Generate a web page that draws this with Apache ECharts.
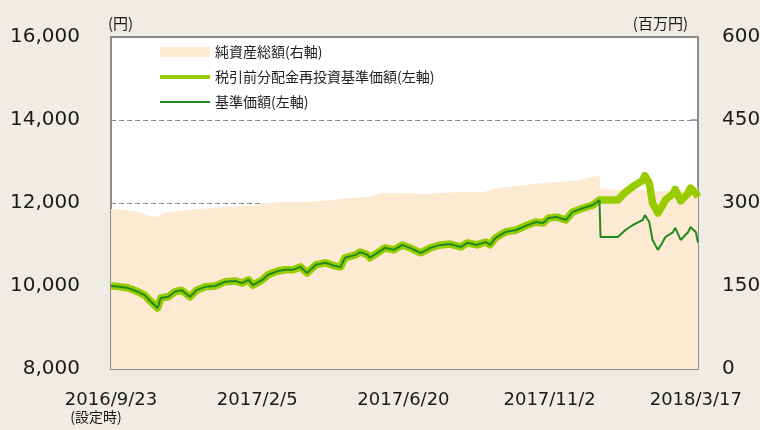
<!DOCTYPE html>
<html>
<head>
<meta charset="utf-8">
<script src="https://cdn.jsdelivr.net/npm/echarts@6/dist/echarts.min.js"></script>
<style>
  html, body { margin: 0; padding: 0; background: #efece6; }
  #chart { width: 760px; height: 430px; }
</style>
</head>
<body>
<div id="chart"></div>
<script>
/* ── Data ──────────────────────────────────────────────── */
const START = '2016/9/23';
const tickDays = [0, 135, 270, 405, 540];

// 基準価額 / 税引前分配金再投資基準価額 (円, 左軸)
const navDates = [
  '2016/9/23','2016/9/29','2016/10/9','2016/10/18','2016/10/24','2016/10/30','2016/11/5','2016/11/8',
  '2016/11/15','2016/11/21','2016/11/27','2016/12/5','2016/12/11','2016/12/19','2016/12/28','2017/1/6',
  '2017/1/16','2017/1/22','2017/1/28','2017/2/1','2017/2/10','2017/2/15','2017/2/24','2017/3/3',
  '2017/3/10','2017/3/17','2017/3/23','2017/3/31','2017/4/9','2017/4/18','2017/4/23','2017/4/27',
  '2017/5/7','2017/5/11','2017/5/18','2017/5/20','2017/5/27','2017/6/3','2017/6/11','2017/6/19',
  '2017/6/26','2017/7/6','2017/7/15','2017/7/24','2017/8/2','2017/8/12','2017/8/18','2017/8/27',
  '2017/9/4','2017/9/8','2017/9/13','2017/9/22','2017/10/2','2017/10/11','2017/10/20','2017/10/27',
  '2017/11/1','2017/11/9','2017/11/17','2017/11/23','2017/12/3','2017/12/12','2017/12/18','2017/12/19',
  '2018/1/4','2018/1/11','2018/1/18','2018/1/23','2018/1/27','2018/1/29','2018/2/2','2018/2/5',
  '2018/2/10','2018/2/14','2018/2/17','2018/2/24','2018/2/26','2018/3/3','2018/3/10','2018/3/12',
  '2018/3/17','2018/3/19'
];
const navValues = [
  10000, 9990, 9950, 9860, 9780, 9620, 9470, 9710,
  9740, 9860, 9900, 9740, 9900, 9980, 10000, 10100,
  10120, 10070, 10150, 10020, 10150, 10270, 10360, 10390,
  10390, 10460, 10310, 10510, 10560, 10480, 10460, 10680,
  10750, 10820, 10750, 10680, 10800, 10920, 10870, 10990,
  10920, 10800, 10920, 10990, 11010, 10940, 11040, 10990,
  11060, 10990, 11160, 11300, 11350, 11450, 11540, 11520,
  11640, 11660, 11590, 11780, 11880, 11950, 12070, 11180,
  11180, 11350, 11470, 11540, 11590, 11710, 11540, 11110,
  10870, 11040, 11180, 11300, 11400, 11110, 11300, 11420,
  11300, 11050
];
const reinvValues = [
  10000, 9990, 9950, 9860, 9780, 9620, 9470, 9710,
  9740, 9860, 9900, 9740, 9900, 9980, 10000, 10100,
  10120, 10070, 10150, 10020, 10150, 10270, 10360, 10390,
  10390, 10460, 10310, 10510, 10560, 10480, 10460, 10680,
  10750, 10820, 10750, 10680, 10800, 10920, 10870, 10990,
  10920, 10800, 10920, 10990, 11010, 10940, 11040, 10990,
  11060, 10990, 11160, 11300, 11350, 11450, 11540, 11520,
  11640, 11660, 11590, 11780, 11880, 11950, 12070, 12070,
  12070, 12260, 12400, 12480, 12540, 12660, 12480, 12000,
  11760, 11930, 12080, 12220, 12330, 12050, 12240, 12360,
  12240, 12150
];

// 純資産総額 (百万円, 右軸)
const assetDates = [
  '2016/9/23','2016/9/25','2016/10/8','2016/10/18','2016/10/29','2016/11/5','2016/11/10','2016/11/23',
  '2016/12/14','2017/1/7','2017/2/1','2017/2/12','2017/3/2','2017/3/23','2017/4/13','2017/4/27',
  '2017/5/19','2017/6/1','2017/6/23','2017/7/10','2017/7/18','2017/8/15','2017/9/2','2017/9/16',
  '2017/10/7','2017/10/25','2017/11/11','2017/11/29','2017/12/16','2017/12/18','2017/12/19','2018/1/4',
  '2018/1/25','2018/2/13','2018/3/3','2018/3/19'
];
const assetValues = [
  289, 289, 287, 284, 276, 275, 282, 285,
  289, 293, 295, 300, 302, 302, 305, 309,
  311, 318, 318, 316, 318, 320, 320, 327,
  332, 336, 338, 341, 349, 350, 325, 324,
  324, 321, 324, 327
];

/* ── Helpers ───────────────────────────────────────────── */
const DAY = 86400000;
function toUTC(s) {
  const p = s.split('/').map(Number);
  return Date.UTC(p[0], p[1] - 1, p[2]);
}
const t0 = toUTC(START);
const dayOf = s => (toUTC(s) - t0) / DAY;
const pairs = (dates, vals) => dates.map((d, i) => [dayOf(d), vals[i]]);

const FONT_JP = "'Noto Sans CJK JP', 'Noto Sans', sans-serif";
const FONT_NUM = "'DejaVu Sans', 'Noto Sans CJK JP', sans-serif";
const GREEN_LIGHT = '#99cc00';
const GREEN_DARK = '#1e8a1e';
const PEACH = '#fcead3';
const AXIS_GREY = '#8c8c8c';
const NO_DOT = { color: 'rgba(0,0,0,0)', borderWidth: 0 };

/* ── Chart ─────────────────────────────────────────────── */
const chart = echarts.init(document.getElementById('chart'), null, { renderer: 'canvas' });

chart.setOption({
  backgroundColor: '#efece6',
  animation: false,
  grid: {
    left: 111, right: 62, top: 37, bottom: 61,
    outerBoundsMode: 'none', containLabel: false,
    show: true, backgroundColor: '#fff', borderColor: AXIS_GREY, borderWidth: 2
  },
  legend: {
    orient: 'vertical', left: 153, top: 40,
    itemWidth: 50, itemHeight: 10, itemGap: 11,
    textStyle: { fontFamily: FONT_JP, fontSize: 14, color: '#222' },
    data: [
      { name: '純資産総額(右軸)', icon: 'rect', itemStyle: { color: PEACH } },
      { name: '税引前分配金再投資基準価額(左軸)', lineStyle: { width: 4 }, itemStyle: NO_DOT },
      { name: '基準価額(左軸)', lineStyle: { width: 2 }, itemStyle: NO_DOT }
    ]
  },
  xAxis: {
    type: 'value', min: 0, max: 542, interval: 135,
    axisLine: { show: true, lineStyle: { color: AXIS_GREY, width: 2 } },
    axisTick: { show: true, inside: true, length: 7, lineStyle: { color: AXIS_GREY, width: 1.5 } },
    splitLine: { show: false },
    axisLabel: {
      showMaxLabel: false, margin: 21, color: '#1a1a1a', fontFamily: FONT_NUM, fontSize: 18,
      lineHeight: 20,
      formatter: v => {
        if (tickDays.indexOf(v) < 0) return '';
        const d = new Date(t0 + v * DAY);
        const s = d.getUTCFullYear() + '/' + (d.getUTCMonth() + 1) + '/' + d.getUTCDate();
        return v === 0 ? s + '\n{s|(設定時)}' : s;
      },
      rich: { s: { fontFamily: FONT_JP, fontSize: 14, color: '#1a1a1a', padding: [0, 30, 0, 0], lineHeight: 14 } }
    }
  },
  yAxis: [
    {
      type: 'value', min: 8000, max: 16000, interval: 2000,
      name: '(円)', nameLocation: 'end', nameGap: 6,
      nameTextStyle: { align: 'left', fontFamily: FONT_JP, fontSize: 15, color: '#1a1a1a', padding: [0, 0, 0, -3] },
      axisLine: { show: true, lineStyle: { color: AXIS_GREY, width: 2 } },
      axisTick: { show: false },
      splitLine: { show: true, lineStyle: { color: '#8a8a8a', type: [5, 3], width: 1.2 } },
      axisLabel: {
        margin: 31, color: '#1a1a1a', fontFamily: FONT_NUM, fontSize: 20,
        formatter: v => v.toLocaleString('en-US')
      }
    },
    {
      type: 'value', min: 0, max: 600, interval: 150,
      name: '(百万円)', nameLocation: 'end', nameGap: 6,
      nameTextStyle: { align: 'right', fontFamily: FONT_JP, fontSize: 15, color: '#1a1a1a', padding: [0, 10, 0, 0] },
      axisLine: { show: true, lineStyle: { color: AXIS_GREY, width: 2 } },
      axisTick: { show: true, inside: true, length: 7, lineStyle: { color: AXIS_GREY, width: 1.5 } },
      splitLine: { show: false },
      axisLabel: { margin: 24, color: '#1a1a1a', fontFamily: FONT_NUM, fontSize: 20 }
    }
  ],
  series: [
    {
      name: '純資産総額(右軸)', type: 'line', yAxisIndex: 1,
      data: pairs(assetDates, assetValues),
      symbol: 'none', lineStyle: { width: 0, color: PEACH },
      itemStyle: { color: PEACH },
      areaStyle: { color: PEACH, opacity: 1 }, z: 1
    },
    {
      name: '税引前分配金再投資基準価額(左軸)', type: 'line', yAxisIndex: 0,
      data: pairs(navDates, reinvValues),
      symbol: 'none', lineStyle: { width: 7.5, color: GREEN_LIGHT, join: 'round' },
      itemStyle: { color: GREEN_LIGHT }, z: 2
    },
    {
      name: '基準価額(左軸)', type: 'line', yAxisIndex: 0,
      data: pairs(navDates, navValues),
      symbol: 'none', lineStyle: { width: 2, color: GREEN_DARK },
      itemStyle: { color: GREEN_DARK }, z: 3
    }
  ]
});
</script>
</body>
</html>
